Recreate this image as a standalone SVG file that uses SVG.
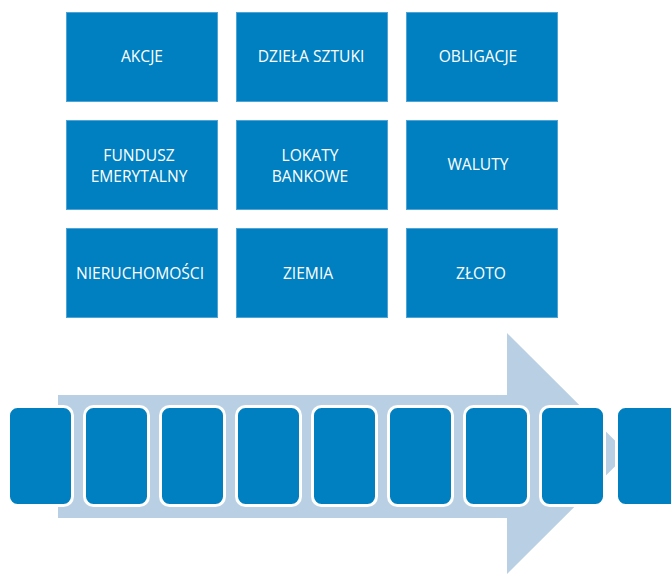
<svg xmlns="http://www.w3.org/2000/svg" width="671" height="574" viewBox="0 0 671 574">
<style>
.box{fill:#0080C0;stroke:#4FA3D6;stroke-width:1}
.t{fill:#FFFFFF;font-family:"Open Sans","Noto Sans","DejaVu Sans",sans-serif;font-size:15.6px;text-anchor:middle}
.step{fill:#0080C0;stroke:#FFFFFF;stroke-width:3}
</style>
<rect width="671" height="574" fill="#FFFFFF"/>
<g id="node-akcje"><rect class="box" x="66.5" y="12.5" width="151" height="89"/><text class="t" x="142" y="62">AKCJE</text></g>
<g id="node-dziela"><rect class="box" x="236.5" y="12.5" width="151" height="89"/><text class="t" x="311" y="62">DZIEŁA SZTUKI</text></g>
<g id="node-obligacje"><rect class="box" x="406.5" y="12.5" width="151" height="89"/><text class="t" x="478" y="62">OBLIGACJE</text></g>
<g id="node-fundusz"><rect class="box" x="66.5" y="120.5" width="151" height="89"/><text class="t" x="139" y="161">FUNDUSZ</text><text class="t" x="139" y="182">EMERYTALNY</text></g>
<g id="node-lokaty"><rect class="box" x="236.5" y="120.5" width="151" height="89"/><text class="t" x="310" y="161">LOKATY</text><text class="t" x="310" y="182">BANKOWE</text></g>
<g id="node-waluty"><rect class="box" x="406.5" y="120.5" width="151" height="89"/><text class="t" x="478" y="170">WALUTY</text></g>
<g id="node-nieruchomosci"><rect class="box" x="66.5" y="228.5" width="151" height="89"/><text class="t" x="140" y="279">NIERUCHOMOŚCI</text></g>
<g id="node-ziemia"><rect class="box" x="236.5" y="228.5" width="151" height="89"/><text class="t" x="308" y="279">ZIEMIA</text></g>
<g id="node-zloto"><rect class="box" x="406.5" y="228.5" width="151" height="89"/><text class="t" x="481" y="279">ZŁOTO</text></g>
<g id="arrow">
<polygon points="58,395 507,395 507,333 628,453.5 507,574 507,518 58,518" fill="#B9D0E4"/>
</g>
<g id="steps">
<rect class="step" x="8.5" y="406.5" width="64" height="99" rx="9"/>
<rect class="step" x="84.5" y="406.5" width="64" height="99" rx="9"/>
<rect class="step" x="160.5" y="406.5" width="64" height="99" rx="9"/>
<rect class="step" x="236.5" y="406.5" width="64" height="99" rx="9"/>
<rect class="step" x="312.5" y="406.5" width="64" height="99" rx="9"/>
<rect class="step" x="388.5" y="406.5" width="64" height="99" rx="9"/>
<rect class="step" x="464.5" y="406.5" width="64" height="99" rx="9"/>
<rect class="step" x="540.5" y="406.5" width="64" height="99" rx="9"/>
<rect class="step" x="616.5" y="406.5" width="64" height="99" rx="9"/>
</g>
</svg>
